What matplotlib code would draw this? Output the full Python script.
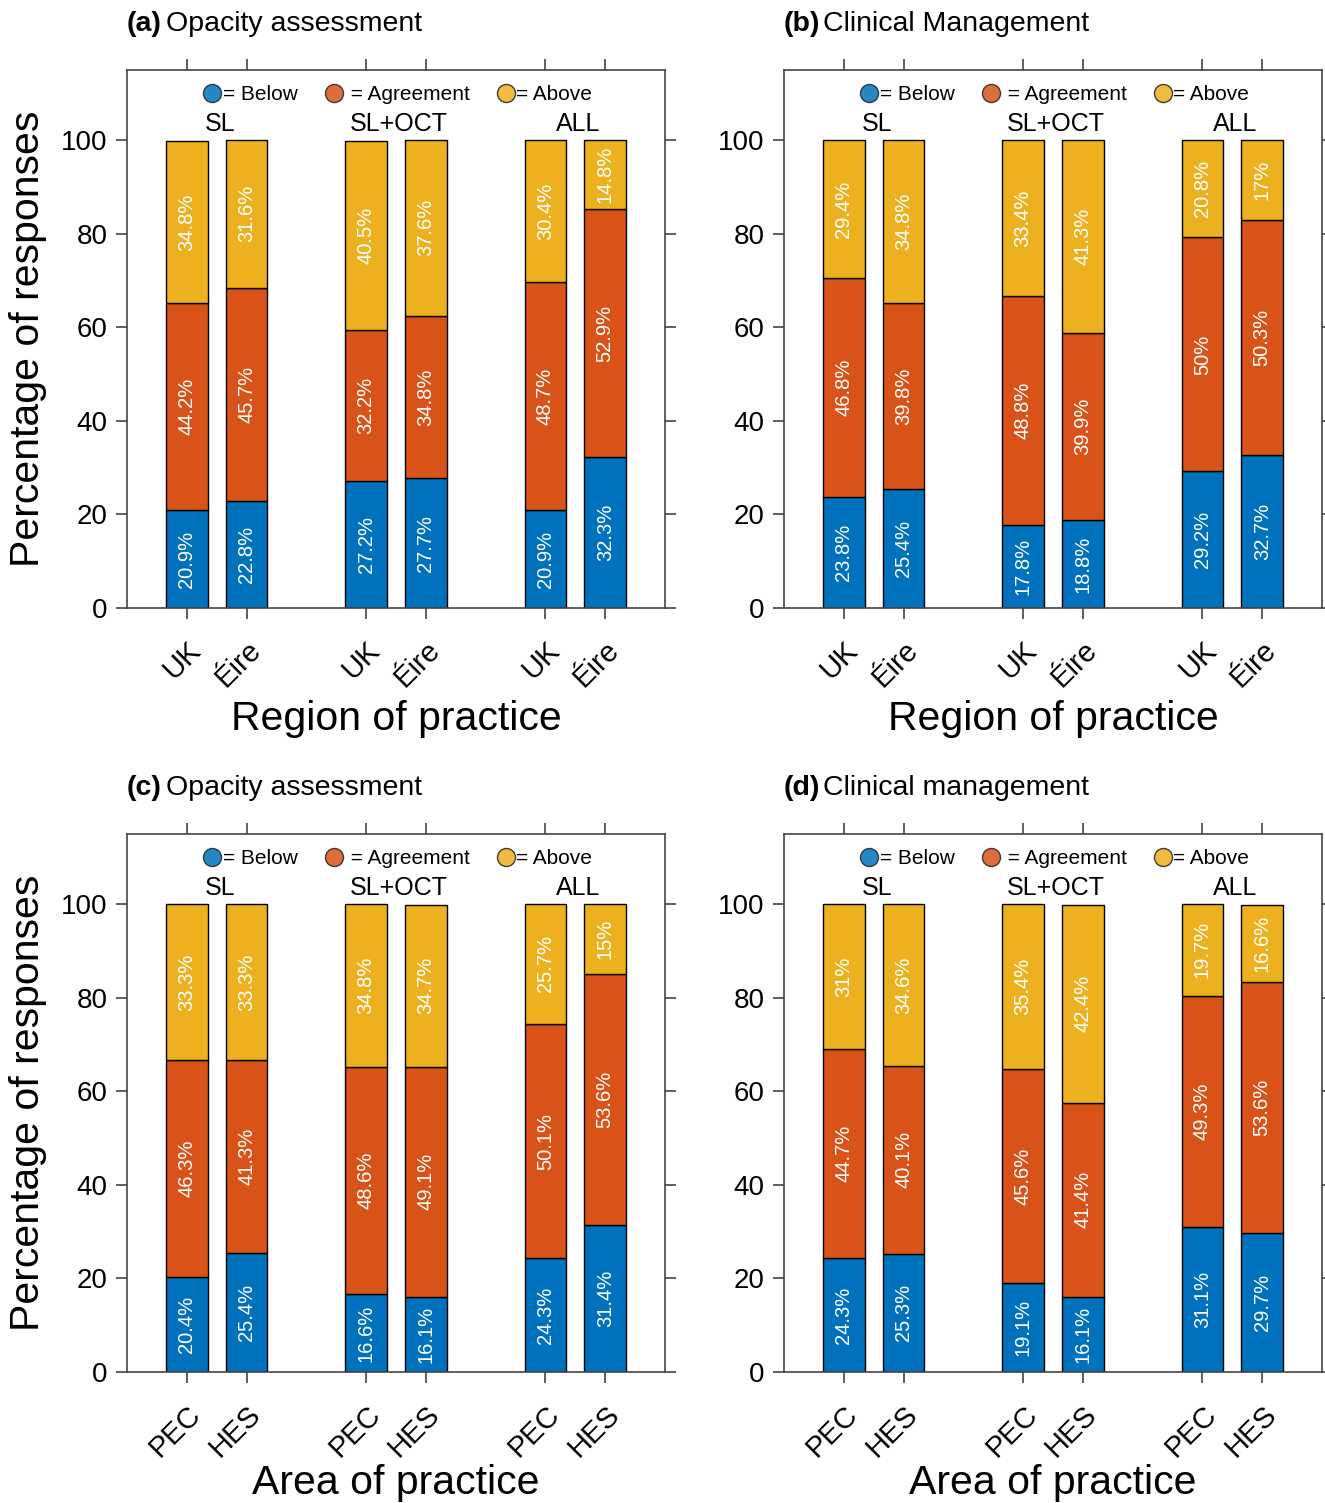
import matplotlib
matplotlib.use("Agg")
import matplotlib.pyplot as plt
from matplotlib.lines import Line2D

plt.rcParams["font.family"] = ["Liberation Sans", "DejaVu Sans"]

# bar order: SL (UK, Eire), SL+OCT (UK, Eire), ALL (UK, Eire)
positions = [1, 2, 4, 5, 7, 8]
groups = ["SL", "SL+OCT", "ALL"]
group_centres = [1.5, 4.5, 7.5]
region_ticks = ["UK", "Éire", "UK", "Éire", "UK", "Éire"]
area_ticks = ["PEC", "HES", "PEC", "HES", "PEC", "HES"]

# (a) Opacity assessment by region
a_below = [20.9, 22.8, 27.2, 27.7, 20.9, 32.3]
a_agree = [44.2, 45.7, 32.2, 34.8, 48.7, 52.9]
a_above = [34.8, 31.6, 40.5, 37.6, 30.4, 14.8]

# (b) Clinical management by region
b_below = [23.8, 25.4, 17.8, 18.8, 29.2, 32.7]
b_agree = [46.8, 39.8, 48.8, 39.9, 50.0, 50.3]
b_above = [29.4, 34.8, 33.4, 41.3, 20.8, 17.0]

# (c) Opacity assessment by area
c_below = [20.4, 25.4, 16.6, 16.1, 24.3, 31.4]
c_agree = [46.3, 41.3, 48.6, 49.1, 50.1, 53.6]
c_above = [33.3, 33.3, 34.8, 34.7, 25.7, 15.0]

# (d) Clinical management by area
d_below = [24.3, 25.3, 19.1, 16.1, 31.1, 29.7]
d_agree = [44.7, 40.1, 45.6, 41.4, 49.3, 53.6]
d_above = [31.0, 34.6, 35.4, 42.4, 19.7, 16.6]

BLUE = "#0072BD"
ORANGE = "#D95319"
YELLOW = "#EDB120"
SPINE = "#444444"

panels = [
    ("(a)", "Opacity assessment", a_below, a_agree, a_above, region_ticks, "Region of practice"),
    ("(b)", "Clinical Management", b_below, b_agree, b_above, region_ticks, "Region of practice"),
    ("(c)", "Opacity assessment", c_below, c_agree, c_above, area_ticks, "Area of practice"),
    ("(d)", "Clinical management", d_below, d_agree, d_above, area_ticks, "Area of practice"),
]

W, H = 1325, 1503
fig = plt.figure(figsize=(W / 100, H / 100), dpi=100)

boxes = [(127, 70), (784, 70), (127, 834), (784, 834)]
aw, ah = 538, 538


def fmt(v):
    return "%g%%" % v


for (letter, title, below, agree, above, ticks, xlab), (x0, y0) in zip(panels, boxes):
    ax = fig.add_axes([x0 / W, 1 - (y0 + ah) / H, aw / W, ah / H])

    bottoms2 = [b + a for b, a in zip(below, agree)]
    ax.bar(positions, below, width=0.7, color=BLUE, edgecolor="black", linewidth=1)
    ax.bar(positions, agree, width=0.7, bottom=below, color=ORANGE, edgecolor="black", linewidth=1)
    ax.bar(positions, above, width=0.7, bottom=bottoms2, color=YELLOW, edgecolor="black", linewidth=1)

    for x, b, a, u, b2 in zip(positions, below, agree, above, bottoms2):
        for val, base in ((b, 0), (a, b), (u, b2)):
            ax.text(x, base + val / 2, fmt(val), rotation=90, ha="center", va="center",
                    color="white", fontsize=14.5)

    for gx, g in zip(group_centres, groups):
        ax.text(gx + 0.05, 103.5, g, ha="center", va="center", fontsize=18)

    handles = [
        Line2D([], [], marker="o", linestyle="none", markersize=13, markerfacecolor=c,
               markeredgecolor="#222222", alpha=0.85)
        for c in (BLUE, ORANGE, YELLOW)
    ]
    ax.legend(handles, ["= Below", " = Agreement", "= Above"], ncol=3, frameon=False,
              loc="center", bbox_to_anchor=(0.5, 0.954), fontsize=15,
              handletextpad=-0.1, columnspacing=1.15, handlelength=1.2, borderpad=0)

    ax.set_xlim(0, 9)
    ax.set_ylim(0, 115)
    ax.set_yticks([0, 20, 40, 60, 80, 100])
    ax.set_xticks(positions)
    ax.set_xticklabels(ticks, rotation=45, ha="right", rotation_mode="anchor")
    ax.tick_params(direction="out", top=True, right=True, length=8, width=1.2,
                   color=SPINE, labelsize=20, pad=6)
    ax.tick_params(axis="x", pad=12, labelsize=21)
    for s in ax.spines.values():
        s.set_color(SPINE)
        s.set_linewidth(1.2)

    ax.set_xlabel(xlab, fontsize=29.5)
    ax.xaxis.label.set_va("center")
    ax.xaxis.set_label_coords(0.5, -0.206)
    if x0 < 500:
        ax.set_ylabel("Percentage of responses", fontsize=29.5)
        ax.yaxis.label.set_va("center")
        ax.yaxis.set_label_coords(-0.184, 0.5)

    ax.text(0.0, 1.0 + 46 / ah, letter, transform=ax.transAxes, fontsize=20.5,
            fontweight="bold", ha="left", va="center")
    ax.text(0.0 + 39 / aw, 1.0 + 46 / ah, title, transform=ax.transAxes, fontsize=20.5,
            ha="left", va="center")

fig.savefig("out.png", dpi=100)
